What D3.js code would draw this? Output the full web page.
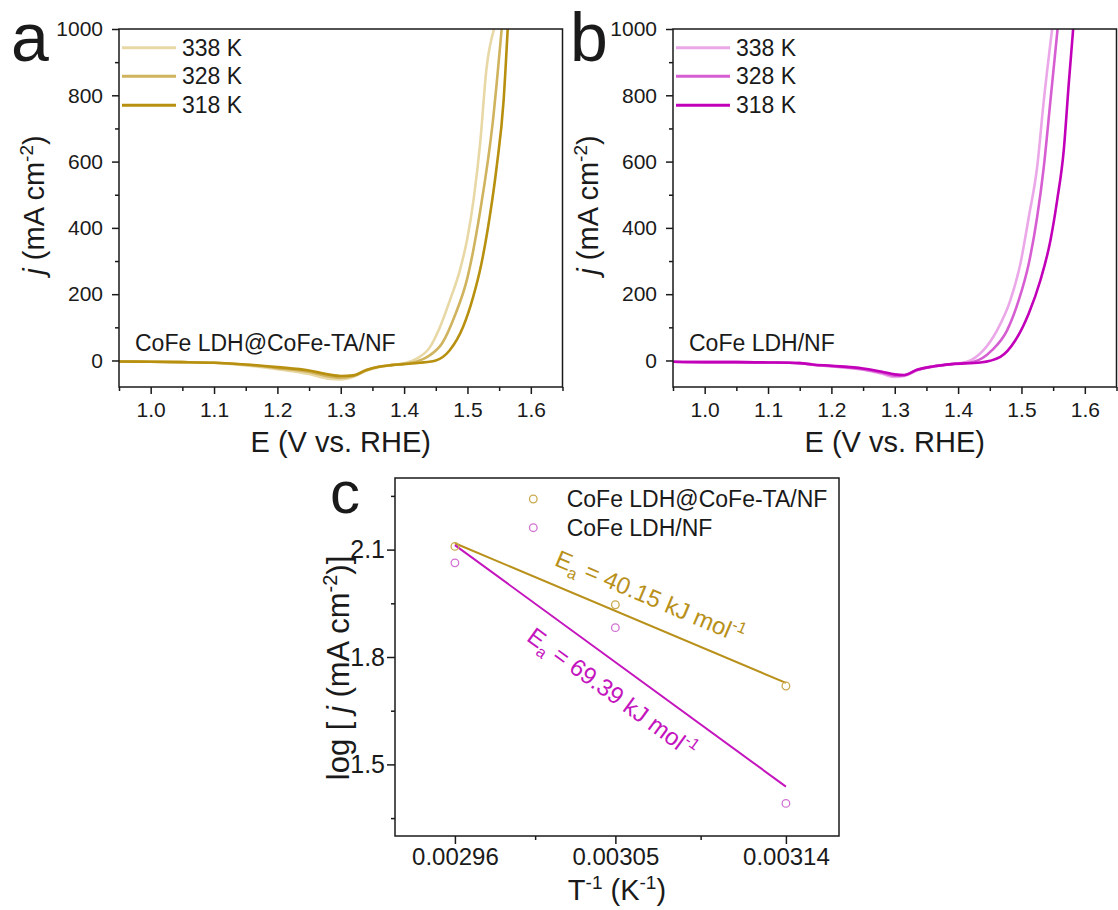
<!DOCTYPE html>
<html>
<head>
<meta charset="utf-8">
<script src="https://cdn.jsdelivr.net/npm/d3@7"></script>
<style>
  body { margin: 0; background: #fff; }
  svg { display: block; font-family: "Liberation Sans", Arial, Helvetica, sans-serif; }
</style>
</head>
<body>
<svg id="fig" width="1118" height="910"></svg>
<script>
// ---------------- data ----------------
const temps = [338, 328, 318];
const tempLabels = ["338 K", "328 K", "318 K"];

// (a) CoFe LDH@CoFe-TA/NF, LSV at three temperatures (E in V vs. RHE, j in mA cm-2)
const potA338 = [0.95, 1.00, 1.05, 1.10, 1.15, 1.20, 1.25, 1.28, 1.30, 1.32, 1.34, 1.36, 1.38, 1.40, 1.42, 1.44, 1.456, 1.472, 1.488, 1.50, 1.51, 1.52, 1.53, 1.542];
const curA338 = [-3, -4, -5, -7, -15, -26, -41, -55, -57, -49, -31, -20, -14, -8, 6, 38, 98, 180, 272, 370, 490, 655, 880, 1000];
const potA328 = [0.95, 1.00, 1.05, 1.10, 1.15, 1.20, 1.25, 1.28, 1.30, 1.32, 1.34, 1.36, 1.38, 1.40, 1.42, 1.44, 1.46, 1.48, 1.50, 1.52, 1.54, 1.554];
const curA328 = [-3, -4, -5, -7, -13, -23, -35, -48, -52, -47, -30, -19, -14, -10, -3, 15, 52, 135, 250, 450, 720, 1000];
const potA318 = [0.95, 1.00, 1.05, 1.10, 1.15, 1.20, 1.25, 1.28, 1.30, 1.32, 1.34, 1.36, 1.38, 1.40, 1.425, 1.451, 1.472, 1.493, 1.509, 1.522, 1.535, 1.546, 1.557, 1.5635];
const curA318 = [-3, -4, -5, -7, -12, -20, -30, -42, -47, -45, -29, -19, -14, -11, -7, 1, 31, 101, 192, 292, 432, 583, 783, 1000];

// (b) CoFe LDH/NF, LSV at three temperatures
const potB338 = [0.95, 1.00, 1.05, 1.10, 1.15, 1.17, 1.20, 1.25, 1.28, 1.30, 1.315, 1.335, 1.36, 1.39, 1.414, 1.44, 1.4615, 1.4825, 1.4983, 1.5115, 1.5247, 1.5352, 1.5484];
const curB338 = [-4, -5, -5, -6, -8, -13, -18, -28, -40, -50, -47, -30, -19, -11, -4, 31, 91, 182, 292, 432, 583, 783, 1000];
const potB328 = [0.95, 1.00, 1.05, 1.10, 1.15, 1.17, 1.20, 1.25, 1.28, 1.30, 1.315, 1.335, 1.36, 1.39, 1.4246, 1.4536, 1.4773, 1.4957, 1.5115, 1.5247, 1.5352, 1.5457, 1.557];
const curB328 = [-4, -5, -5, -6, -8, -13, -17, -26, -37, -46, -45, -29, -18, -11, -4, 31, 91, 182, 292, 432, 583, 783, 1000];
const potB318 = [0.95, 1.00, 1.05, 1.10, 1.15, 1.17, 1.20, 1.25, 1.28, 1.30, 1.315, 1.335, 1.36, 1.39, 1.4352, 1.4667, 1.4904, 1.5115, 1.5299, 1.5457, 1.5563, 1.5667, 1.5746, 1.5816];
const curB318 = [-4, -5, -5, -6, -8, -12, -16, -24, -34, -42, -44, -28, -18, -11, -6, 11, 61, 142, 242, 362, 483, 633, 834, 1000];

// (c) Arrhenius plot: log j vs 1/T
const logJA = [2.109, 1.946, 1.719];   // CoFe LDH@CoFe-TA/NF
const logJB = [2.063, 1.882, 1.391];   // CoFe LDH/NF
const activationA = 40.15;            // kJ mol-1
const activationB = 69.39;            // kJ mol-1
const invTLabels = ["0.00296", "0.00305", "0.00314"];
const seriesNames = ["CoFe LDH@CoFe-TA/NF", "CoFe LDH/NF"];

// axis ticks
const eTicks = [1.0, 1.1, 1.2, 1.3, 1.4, 1.5, 1.6];
const eMinor = [0.95, 1.05, 1.15, 1.25, 1.35, 1.45, 1.55, 1.65];
const jTicks = [0, 200, 400, 600, 800, 1000];
const jMinor = [100, 300, 500, 700, 900];
const logTicks = [1.5, 1.8, 2.1];
const logMinor = [1.35, 1.65, 1.95, 2.25];

// ---------------- styles ----------------
const INK = "#1a1a1a";
const goldShades = ["#E8D8A6", "#D0B35E", "#B8900F"];     // 338, 328, 318 K
const magentaShades = ["#EBA8E9", "#D65ED2", "#C200BA"];
const goldLine = "#B8901A", goldDot = "#C9AA4E";
const magLine = "#C414BE", magDot = "#D272D2";
const FONT = '"Liberation Sans", Arial, Helvetica, sans-serif';

const svg = d3.select("#fig");

// ---------------- helpers ----------------
function styleAxis(g, fontSize) {
  g.select(".domain").remove();
  g.selectAll(".tick line").attr("stroke", INK).attr("stroke-width", 1.5);
  g.selectAll(".tick text").attr("fill", INK).attr("font-size", fontSize).attr("font-family", FONT);
}

function frame(box) {
  svg.append("rect")
    .attr("x", box.x0).attr("y", box.y0)
    .attr("width", box.x1 - box.x0).attr("height", box.y1 - box.y0)
    .attr("fill", "none").attr("stroke", INK).attr("stroke-width", 1.5);
}

function lsvPanel(box, clipId, series, shades, note, letter, letterX) {
  const x = d3.scaleLinear().domain([0.95, 1.65]).range([box.x0, box.x1]);
  const y = d3.scaleLinear().domain([-80, 1000]).range([box.y1, box.y0]);

  svg.append("clipPath").attr("id", clipId)
    .append("rect").attr("x", box.x0).attr("y", box.y0)
    .attr("width", box.x1 - box.x0).attr("height", box.y1 - box.y0);

  // axes: minor then major ticks
  const gxm = svg.append("g").attr("transform", `translate(0,${box.y1})`)
    .call(d3.axisBottom(x).tickValues(eMinor).tickSize(4).tickFormat(""));
  styleAxis(gxm, 21);
  const gx = svg.append("g").attr("transform", `translate(0,${box.y1})`)
    .call(d3.axisBottom(x).tickValues(eTicks).tickSize(7).tickFormat(d3.format(".1f")));
  styleAxis(gx, 21);
  gx.selectAll(".tick text").attr("y", 30).attr("dy", 0);

  const gym = svg.append("g").attr("transform", `translate(${box.x0},0)`)
    .call(d3.axisLeft(y).tickValues(jMinor).tickSize(4).tickFormat(""));
  styleAxis(gym, 21);
  const gy = svg.append("g").attr("transform", `translate(${box.x0},0)`)
    .call(d3.axisLeft(y).tickValues(jTicks).tickSize(7).tickPadding(9).tickFormat(d3.format("d")));
  styleAxis(gy, 21);

  // curves
  const line = d3.line().x(d => x(d[0])).y(d => y(d[1])).curve(d3.curveMonotoneX);
  const plot = svg.append("g").attr("clip-path", `url(#${clipId})`);
  series.forEach((s, i) => {
    const pts = s.pot.map((e, k) => [e, s.cur[k]]);
    plot.append("path").datum(pts)
      .attr("d", line).attr("fill", "none")
      .attr("stroke", shades[i]).attr("stroke-width", 2.6)
      .attr("stroke-linejoin", "round");
  });

  frame(box);

  // legend
  const legY = [47.7, 76.3, 105.3];
  tempLabels.forEach((t, i) => {
    svg.append("line")
      .attr("x1", box.x0 + 3).attr("x2", box.x0 + 57)
      .attr("y1", legY[i]).attr("y2", legY[i])
      .attr("stroke", shades[i]).attr("stroke-width", 3);
    svg.append("text")
      .attr("x", box.x0 + 63).attr("y", legY[i] + 8)
      .attr("font-size", 23).attr("fill", INK).text(t);
  });

  // sample note
  svg.append("text").attr("x", box.x0 + 16).attr("y", 351)
    .attr("font-size", 23).attr("fill", INK).text(note);

  // axis titles
  svg.append("text").attr("x", (box.x0 + box.x1) / 2).attr("y", 452)
    .attr("text-anchor", "middle").attr("font-size", 29).attr("fill", INK)
    .text("E (V vs. RHE)");

  const yl = svg.append("text")
    .attr("transform", `translate(${box.x0 - 75},205) rotate(-90)`)
    .attr("text-anchor", "middle").attr("font-size", 29).attr("fill", INK);
  yl.append("tspan").attr("font-style", "italic").text("j");
  yl.append("tspan").text(" (mA cm");
  yl.append("tspan").attr("font-size", 19).attr("dy", -11).text("-2");
  yl.append("tspan").attr("dy", 11).text(")");

  // panel letter
  svg.append("text").attr("x", letterX).attr("y", 61)
    .attr("font-size", 68).attr("fill", INK).text(letter);
}

// ---------------- panel a ----------------
lsvPanel({ x0: 119, x1: 562.5, y0: 29, y1: 387 }, "clipA",
  [{ pot: potA338, cur: curA338 }, { pot: potA328, cur: curA328 }, { pot: potA318, cur: curA318 }],
  goldShades, "CoFe LDH@CoFe-TA/NF", "a", 11);

// ---------------- panel b ----------------
lsvPanel({ x0: 673, x1: 1116.5, y0: 29, y1: 387 }, "clipB",
  [{ pot: potB338, cur: curB338 }, { pot: potB328, cur: curB328 }, { pot: potB318, cur: curB318 }],
  magentaShades, "CoFe LDH/NF", "b", 570);

// ---------------- panel c ----------------
const C = { x0: 395, x1: 839, y0: 478, y1: 836 };
const invT = temps.map(t => 1 / t);
const xc = d3.scaleLinear().domain([0.0029249, 0.0031745]).range([C.x0, C.x1]);
const yc = d3.scaleLinear().domain([1.3, 2.3]).range([C.y1, C.y0]);

const invTMinor = [(invT[0] + invT[1]) / 2, (invT[1] + invT[2]) / 2];

const gcxm = svg.append("g").attr("transform", `translate(0,${C.y1})`)
  .call(d3.axisBottom(xc).tickValues(invTMinor).tickSize(4).tickFormat(""));
styleAxis(gcxm, 24);
const gcx = svg.append("g").attr("transform", `translate(0,${C.y1})`)
  .call(d3.axisBottom(xc).tickValues(invT).tickSize(8).tickFormat((d, i) => invTLabels[i]));
styleAxis(gcx, 24);
gcx.selectAll(".tick text").attr("y", 29).attr("dy", 0);

const gcym = svg.append("g").attr("transform", `translate(${C.x0},0)`)
  .call(d3.axisLeft(yc).tickValues(logMinor).tickSize(4).tickFormat(""));
styleAxis(gcym, 25);
const gcy = svg.append("g").attr("transform", `translate(${C.x0},0)`)
  .call(d3.axisLeft(yc).tickValues(logTicks).tickSize(8).tickPadding(2).tickFormat(d3.format(".1f")));
styleAxis(gcy, 25);

frame(C);

// Arrhenius fit lines: slope = -Ea / (R ln10), through the centroid of the points
function arrheniusLine(xs, ys, eaKJ) {
  const slope = -eaKJ * 1000 / (8.314 * Math.LN10);
  const mx = d3.mean(xs), my = d3.mean(ys);
  const xa = d3.min(xs), xb = d3.max(xs);
  return [[xa, my + slope * (xa - mx)], [xb, my + slope * (xb - mx)]];
}
const fitA = arrheniusLine(invT, logJA, activationA);
const fitB = arrheniusLine(invT, logJB, activationB);

const straight = d3.line().x(d => xc(d[0])).y(d => yc(d[1]));
svg.append("path").datum(fitA).attr("d", straight)
  .attr("stroke", goldLine).attr("stroke-width", 2).attr("fill", "none");
svg.append("path").datum(fitB).attr("d", straight)
  .attr("stroke", magLine).attr("stroke-width", 2).attr("fill", "none");

function dots(ys, color) {
  svg.append("g").selectAll("circle").data(ys).join("circle")
    .attr("cx", (d, i) => xc(invT[i])).attr("cy", d => yc(d))
    .attr("r", 3.8).attr("fill", "none")
    .attr("stroke", color).attr("stroke-width", 1.3);
}
dots(logJA, goldDot);
dots(logJB, magDot);

// Ea annotations laid along their fit lines
function eaLabel(fit, value, color, cx, cy) {
  const dx = xc(fit[1][0]) - xc(fit[0][0]);
  const dy = yc(fit[1][1]) - yc(fit[0][1]);
  const ang = Math.atan2(dy, dx) * 180 / Math.PI;
  const t = svg.append("text")
    .attr("transform", `translate(${cx},${cy}) rotate(${ang})`)
    .attr("y", 8).attr("text-anchor", "middle")
    .attr("font-size", 24).attr("fill", color);
  t.append("tspan").text("E");
  t.append("tspan").attr("font-size", 16).attr("dy", 6).text("a");
  t.append("tspan").attr("dy", -6).text(" = " + value.toFixed(2) + " kJ mol");
  t.append("tspan").attr("font-size", 16).attr("dy", -10).text("-1");
}
eaLabel(fitA, activationA, goldLine, 650, 597);
eaLabel(fitB, activationB, magLine, 612, 693);

// legend
const legC = [499, 527.7];
[goldDot, magDot].forEach((col, i) => {
  svg.append("circle").attr("cx", 533.3).attr("cy", legC[i]).attr("r", 3.8)
    .attr("fill", "none").attr("stroke", col).attr("stroke-width", 1.3);
  svg.append("text").attr("x", 566.7).attr("y", legC[i] + 8)
    .attr("font-size", 23).attr("fill", INK).text(seriesNames[i]);
});

// axis titles
const cxl = svg.append("text").attr("x", (C.x0 + C.x1) / 2).attr("y", 900)
  .attr("text-anchor", "middle").attr("font-size", 29).attr("fill", INK);
cxl.append("tspan").text("T");
cxl.append("tspan").attr("font-size", 19).attr("dy", -11).text("-1");
cxl.append("tspan").attr("dy", 11).text(" (K");
cxl.append("tspan").attr("font-size", 19).attr("dy", -11).text("-1");
cxl.append("tspan").attr("dy", 11).text(")");

const cyl = svg.append("text")
  .attr("transform", `translate(349,668) rotate(-90)`)
  .attr("text-anchor", "middle").attr("font-size", 31).attr("fill", INK);
cyl.append("tspan").text("log [ ");
cyl.append("tspan").attr("font-style", "italic").text("j");
cyl.append("tspan").text(" (mA cm");
cyl.append("tspan").attr("font-size", 20).attr("dy", -12).text("-2");
cyl.append("tspan").attr("dy", 12).text(")]");

svg.append("text").attr("x", 330).attr("y", 513)
  .attr("font-size", 60).attr("fill", INK).text("c");
</script>
</body>
</html>
